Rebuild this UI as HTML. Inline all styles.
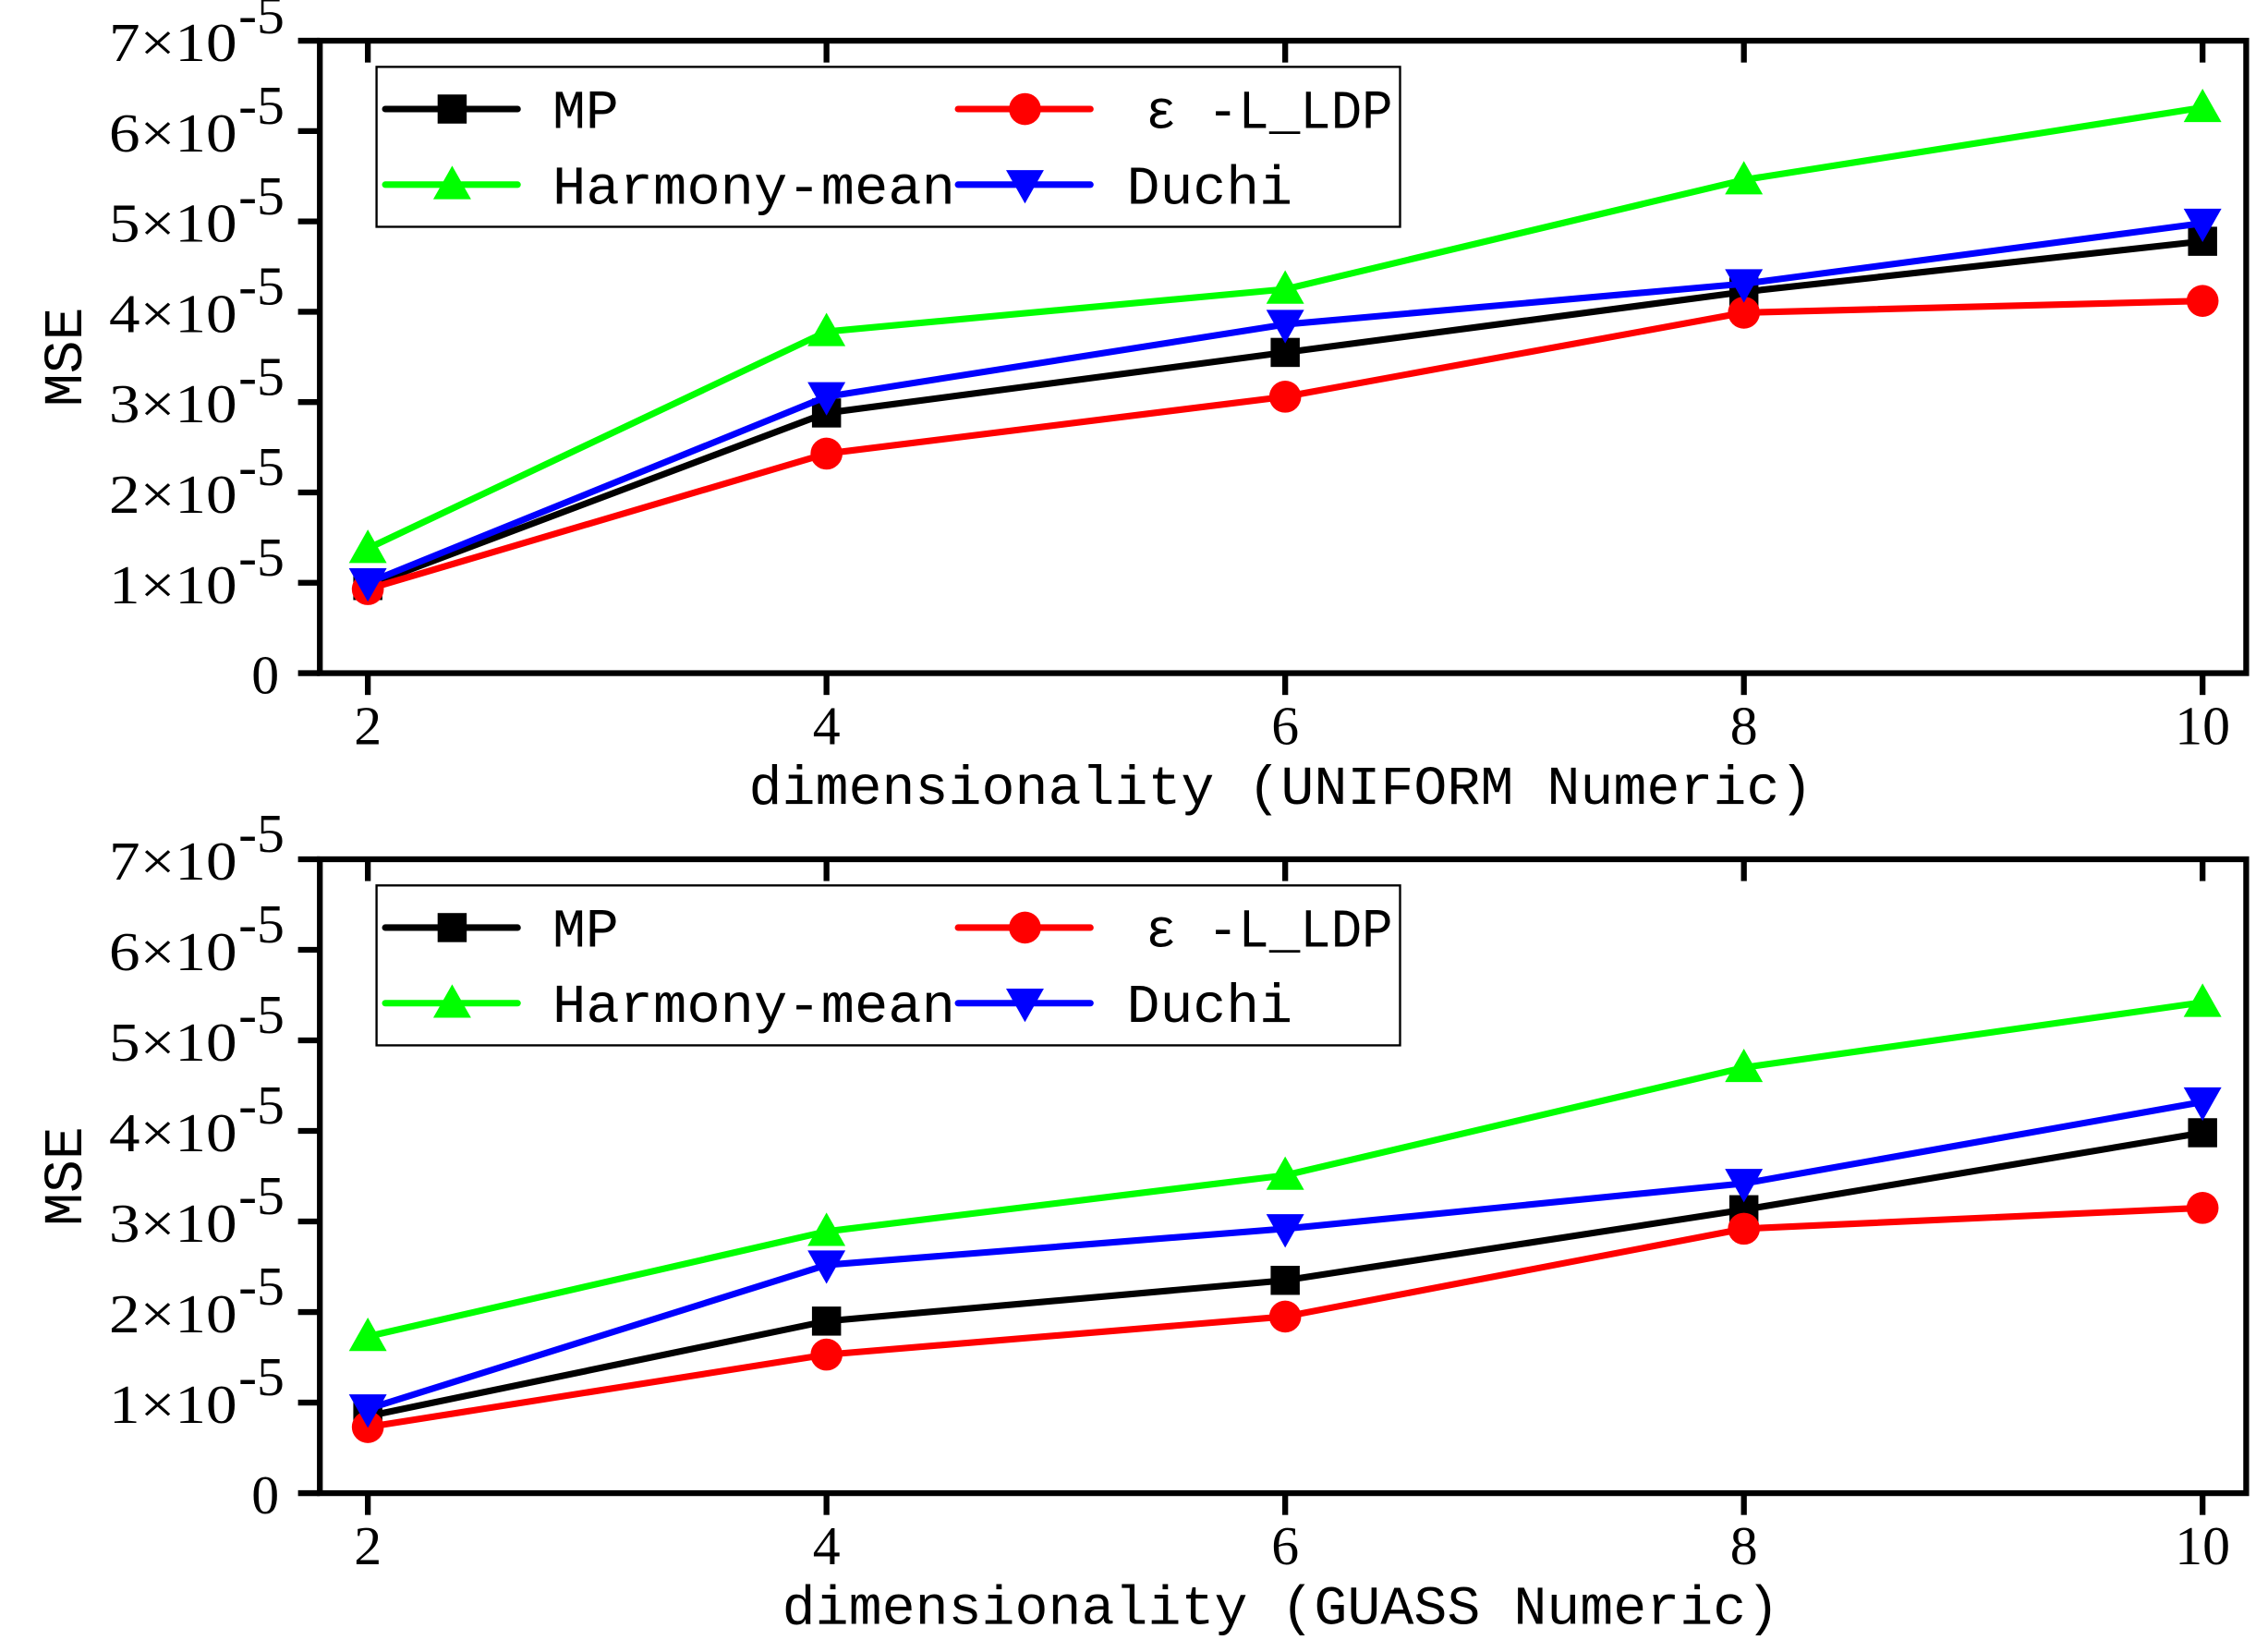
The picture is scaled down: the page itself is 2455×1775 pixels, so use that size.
<!DOCTYPE html>
<html><head><meta charset="utf-8"><style>
html,body{margin:0;padding:0;background:#fff;}
svg{display:block;}
text{font-family:"Liberation Mono",monospace;fill:#000;}
.tk{font-family:"Liberation Serif",serif;font-size:38px;}
</style></head><body>
<svg id="chart" width="2455" height="1775" viewBox="0 0 1560 1128" preserveAspectRatio="none" xmlns="http://www.w3.org/2000/svg"></svg>
<script>
const categories = [2, 4, 6, 8, 10];
const yTicks = [0, 1, 2, 3, 4, 5, 6, 7];
const seriesNames = ["MP", "ε -L_LDP", "Harmony-mean", "Duchi"];
const topMP = [0.97, 2.88, 3.55, 4.22, 4.78];
const topLDP = [0.93, 2.43, 3.06, 3.99, 4.12];
const topHarmony = [1.38, 3.78, 4.25, 5.46, 6.26];
const topDuchi = [1.0, 3.06, 3.86, 4.31, 4.98];
const botMP = [0.85, 1.90, 2.35, 3.13, 3.98];
const botLDP = [0.73, 1.53, 1.95, 2.92, 3.15];
const botHarmony = [1.73, 2.89, 3.51, 4.70, 5.42];
const botDuchi = [0.93, 2.52, 2.92, 3.42, 4.32];
const xTitles = ["dimensionality (UNIFORM Numeric)", "dimensionality (GUASS Numeric)"];

const NS = "http://www.w3.org/2000/svg";
const svg = document.getElementById('chart');
function mk(tag, attrs, parent){
  const e = document.createElementNS(NS, tag);
  for (const k in attrs) e.setAttribute(k, attrs[k]);
  (parent||svg).appendChild(e);
  return e;
}
const colors = ["#000000", "#ff0000", "#00ff00", "#0000ff"];
const markers = ["square", "circle", "tri-up", "tri-down"];

function marker(g, type, x, y, color){
  let m;
  if (type === "square") m = mk('rect', {x:x-10, y:y-10, width:20, height:20, fill:color}, g);
  else if (type === "circle") m = mk('circle', {cx:x, cy:y, r:11, fill:color}, g);
  else if (type === "tri-up") m = mk('polygon', {points:`${x},${y-13} ${x-13},${y+10} ${x+13},${y+10}`, fill:color}, g);
  else m = mk('polygon', {points:`${x},${y+13} ${x-13},${y-10} ${x+13},${y-10}`, fill:color}, g);
  
  
  return m;
}

function panel(idx, top, bottom, data){
  const L = 220, R = 1545;
  const g = mk('g', {});
  
  
  const xs = v => 253 + (v - 2) / 8 * (1515 - 253);
  const ys = v => bottom - v / 7 * (bottom - top);
  const box = mk('rect', {x:L, y:top, width:R-L, height:bottom-top, fill:'none', stroke:'#000', 'stroke-width':4}, g);
  
  
  yTicks.forEach(t => {
    const y = ys(t);
    mk('line', {x1:L-15, x2:L, y1:y, y2:y, stroke:'#000', 'stroke-width':4}, g);
    if (t === 0) {
      const tx = mk('text', {x:192, y:y+14, 'text-anchor':'end', class:'tk'}, g);
      
      
      tx.textContent = '0';
    } else {
      const tx = mk('text', {x:75, y:y+14, class:'tk', textLength:88, lengthAdjust:'spacingAndGlyphs'}, g);
      
      
      tx.textContent = t + '×10';
      const s = mk('text', {x:164, y:y-5, class:'tk', 'font-size':24}, g);
      
      
      s.textContent = '-5';
    }
  });
  categories.forEach(c => {
    const x = xs(c);
    mk('line', {x1:x, x2:x, y1:bottom, y2:bottom+15, stroke:'#000', 'stroke-width':4}, g);
    mk('line', {x1:x, x2:x, y1:top, y2:top+15, stroke:'#000', 'stroke-width':4}, g);
    const tx = mk('text', {x:x, y:bottom+49, 'text-anchor':'middle', class:'tk'}, g);
    
    
    tx.textContent = c;
  });
  const yt = mk('text', {x:0, y:0, 'font-size':38, 'text-anchor':'middle', transform:`translate(56,${(top+bottom)/2}) rotate(-90)`}, g);
  
  
  yt.textContent = 'MSE';
  const xt = mk('text', {x:881, y:bottom+90, 'font-size':38, 'text-anchor':'middle', textLength: idx===0?732:686, lengthAdjust:'spacingAndGlyphs'}, g);
  
  
  xt.textContent = xTitles[idx];
  data.forEach((vals, si) => {
    const sg = mk('g', {}, g);
    
    
    const pts = vals.map((v, i) => xs(categories[i]) + ',' + ys(v)).join(' ');
    const pl = mk('polyline', {points:pts, fill:'none', stroke:colors[si], 'stroke-width':4.5, 'stroke-linejoin':'round'}, sg);
    
    
    vals.forEach((v, i) => marker(sg, markers[si], xs(categories[i]), ys(v), colors[si]));
  });
  const lx = 259, ly = top + 18;
  const lg = mk('g', {}, g);
  
  
  mk('rect', {x:lx, y:ly, width:704, height:110, fill:'#fff', stroke:'#000', 'stroke-width':1.5}, lg);
  const pos = [[263, ly+29, 380], [657, ly+29, 788], [263, ly+81, 380], [657, ly+81, 775]];
  [0, 1, 2, 3].forEach((si, k) => {
    const [x0, y0, tx0] = pos[k];
    const e = mk('g', {}, lg);
    
    
    mk('line', {x1:x0+2, x2:x0+93, y1:y0, y2:y0, stroke:colors[si], 'stroke-width':4.5, 'stroke-linecap':'round'}, e);
    marker(e, markers[si], x0+48, y0, colors[si]);
    const t = mk('text', {x:tx0, y:y0+13, 'font-size':38}, e);
    t.textContent = seriesNames[si];
    if (si === 2) { t.setAttribute('textLength', 277); t.setAttribute('lengthAdjust', 'spacingAndGlyphs'); }
    if (si === 1) { t.setAttribute('textLength', 170); t.setAttribute('lengthAdjust', 'spacingAndGlyphs'); }
  });
}
panel(0, 28, 463, [topMP, topLDP, topHarmony, topDuchi]);
panel(1, 591, 1027, [botMP, botLDP, botHarmony, botDuchi]);
</script>
</body></html>
